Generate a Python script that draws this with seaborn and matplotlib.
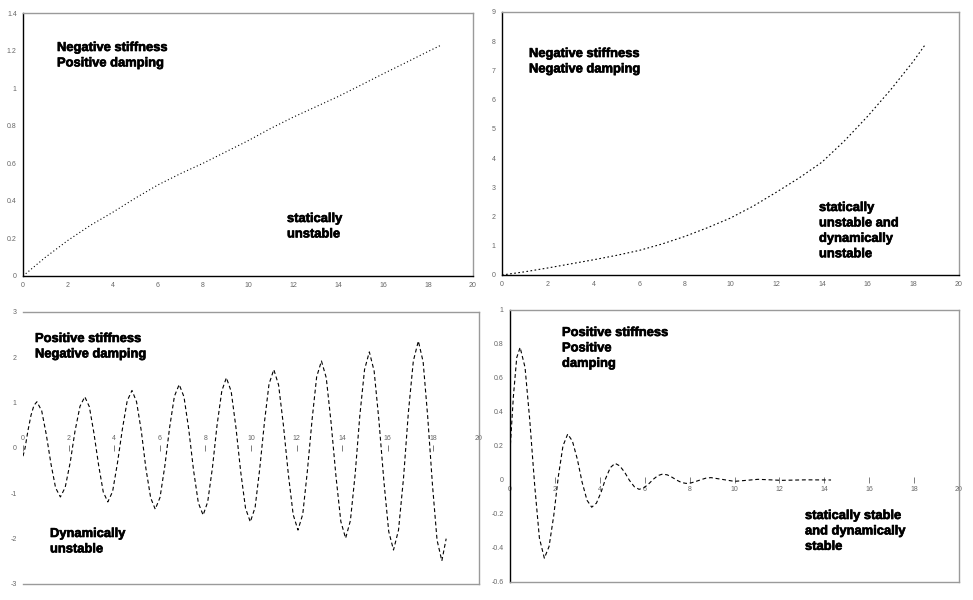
import numpy as np
import pandas as pd
import matplotlib
matplotlib.use("Agg")
import matplotlib.pyplot as plt
import matplotlib.patheffects as pe
import seaborn as sns

# ---------------- data ----------------
# Panel 1: negative stiffness, positive damping
p1_x = [0, 1, 2, 3, 4, 5, 6, 7, 8, 9, 10, 11, 12, 13, 14, 15, 16, 17, 18, 18.6]
p1_y = [0, 0.10, 0.19, 0.27, 0.34, 0.415, 0.485, 0.545, 0.60, 0.66, 0.72,
        0.785, 0.845, 0.90, 0.955, 1.015, 1.076, 1.135, 1.195, 1.23]

# Panel 2: negative stiffness, negative damping
p2_x = [0, 1, 2, 3, 4, 5, 6, 7, 8, 9, 10, 11, 12, 13, 14, 15, 16, 17, 18, 18.5]
p2_y = [0, 0.11, 0.24, 0.38, 0.52, 0.67, 0.84, 1.06, 1.32, 1.62, 1.95,
        2.36, 2.83, 3.32, 3.86, 4.60, 5.43, 6.33, 7.31, 7.86]

# Panel 3: positive stiffness, negative damping
p3_x = [0.00, 0.09, 0.22, 0.35, 0.48, 0.61,
        0.82, 1.02, 1.23, 1.43, 1.64,
        1.85, 2.07, 2.28, 2.50, 2.71,
        2.91, 3.11, 3.32, 3.52, 3.72,
        3.93, 4.14, 4.36, 4.57, 4.78,
        4.98, 5.19, 5.39, 5.60, 5.80,
        6.01, 6.22, 6.43, 6.64, 6.85,
        7.06, 7.27, 7.48, 7.69, 7.90,
        8.10, 8.31, 8.51, 8.72, 8.92,
        9.13, 9.34, 9.55, 9.76, 9.97,
        10.18, 10.38, 10.59, 10.79, 11.00,
        11.21, 11.42, 11.64, 11.85, 12.06,
        12.27, 12.47, 12.68, 12.88, 13.09,
        13.30, 13.51, 13.73, 13.94, 14.15,
        14.36, 14.57, 14.77, 14.98, 15.19,
        15.40, 15.61, 15.83, 16.04, 16.25,
        16.47, 16.69, 16.90, 17.12, 17.34,
        17.55, 17.75, 17.96, 18.16, 18.37,
        18.56]
p3_y = [-0.18, 0.0, 0.39, 0.72, 0.94, 1.02,
        0.82, 0.30, -0.36, -0.88, -1.08,
        -0.87, -0.32, 0.37, 0.92, 1.13,
        0.91, 0.33, -0.39, -0.97, -1.19,
        -0.96, -0.34, 0.42, 1.04, 1.27,
        1.02, 0.37, -0.45, -1.10, -1.35,
        -1.09, -0.40, 0.45, 1.14, 1.40,
        1.13, 0.41, -0.49, -1.21, -1.48,
        -1.19, -0.43, 0.50, 1.26, 1.55,
        1.25, 0.45, -0.53, -1.33, -1.63,
        -1.31, -0.47, 0.57, 1.41, 1.73,
        1.39, 0.51, -0.59, -1.47, -1.81,
        -1.46, -0.52, 0.63, 1.57, 1.92,
        1.55, 0.57, -0.64, -1.62, -1.99,
        -1.60, -0.57, 0.70, 1.73, 2.12,
        1.70, 0.61, -0.74, -1.84, -2.25,
        -1.81, -0.66, 0.77, 1.92, 2.36,
        1.90, 0.69, -0.82, -2.03, -2.49,
        -2.00]

# Panel 4: positive stiffness, positive damping
p4_x = [0.00, 0.15, 0.30, 0.45,
        0.67, 0.88, 1.10, 1.31, 1.53,
        1.74, 1.95, 2.15, 2.36, 2.57,
        2.78, 3.00, 3.21, 3.43, 3.64,
        3.85, 4.06, 4.26, 4.47, 4.68,
        4.89, 5.11, 5.32, 5.54, 5.75,
        5.96, 6.17, 6.38, 6.59, 6.80,
        7.01, 7.22, 7.43, 7.64, 7.85,
        8.07, 8.29, 8.51, 8.73, 8.95,
        9.48, 10.00, 10.53, 11.05, 12.10, 13.20, 14.30]
p4_y = [0.17, 0.49, 0.72, 0.78,
        0.662, 0.352, -0.032, -0.342, -0.46,
        -0.391, -0.208, 0.018, 0.201, 0.27,
        0.229, 0.122, -0.012, -0.119, -0.16,
        -0.136, -0.071, 0.009, 0.073, 0.098,
        0.083, 0.045, -0.002, -0.040, -0.055,
        -0.046, -0.024, 0.004, 0.026, 0.035,
        0.030, 0.016, -0.001, -0.015, -0.020,
        -0.017, -0.008, 0.002, 0.011, 0.014,
        0.003, -0.008, -0.002, 0.004, -0.002, 0.001, 0.0]

x_ticks = [0, 2, 4, 6, 8, 10, 12, 14, 16, 18, 20]
p1_yticks = [0, 0.2, 0.4, 0.6, 0.8, 1, 1.2, 1.4]
p2_yticks = [0, 1, 2, 3, 4, 5, 6, 7, 8, 9]
p3_yticks = [-3, -2, -1, 0, 1, 2, 3]
p4_yticks = [-0.6, -0.4, -0.2, 0, 0.2, 0.4, 0.6, 0.8, 1]

texts = [
    (57, 42, "Negative stiffness\nPositive damping"),
    (287, 213, "statically\nunstable"),
    (529, 48, "Negative stiffness\nNegative damping"),
    (819, 202, "statically\nunstable and\ndynamically\nunstable"),
    (35, 333, "Positive stiffness\nNegative damping"),
    (50, 528, "Dynamically\nunstable"),
    (562, 327, "Positive stiffness\nPositive\ndamping"),
    (805, 510, "statically stable\nand dynamically\nstable"),
]

# ---------------- drawing ----------------
sns.set_style("white")
plt.rcParams["font.family"] = ["Liberation Sans", "DejaVu Sans"]

W, H = 973, 600
fig = plt.figure(figsize=(W / 100, H / 100), dpi=100)
fig.patch.set_facecolor("white")

def rect(l, t, r, b):
    return [l / W, 1 - b / H, (r - l) / W, (b - t) / H]

FRAME = "#9a9a9a"
TICKC = "#666666"
TFS = 5

def fmt(v):
    return "%g" % v

def style_axes(ax, left_dark=True, bottom_dark=True, left_visible=True):
    for s in ["top", "right"]:
        ax.spines[s].set_color(FRAME)
        ax.spines[s].set_linewidth(1.0)
    ax.spines["left"].set_color("black" if left_dark else FRAME)
    ax.spines["left"].set_linewidth(1.0)
    ax.spines["left"].set_visible(left_visible)
    ax.spines["bottom"].set_color("black" if bottom_dark else FRAME)
    ax.spines["bottom"].set_linewidth(1.0)
    ax.tick_params(axis="both", which="both", direction="out", length=3,
                   width=0.6, colors=TICKC, labelsize=TFS, pad=1.5)
    ax.set_xlabel("")
    ax.set_ylabel("")
    ax.grid(False)

# Panel 1
ax1 = fig.add_axes(rect(23, 13, 473, 276))
sns.lineplot(x=p1_x, y=p1_y, ax=ax1, color="black", linewidth=0.8,
             linestyle=(0, (1, 2.2)), sort=False, estimator=None)
ax1.set_xlim(0, 20); ax1.set_ylim(0, 1.4)
ax1.set_xticks(x_ticks); ax1.set_xticklabels([fmt(v) for v in x_ticks])
ax1.set_yticks(p1_yticks); ax1.set_yticklabels([fmt(v) for v in p1_yticks])
style_axes(ax1)

# Panel 2
ax2 = fig.add_axes(rect(502, 12, 959, 275))
sns.lineplot(x=p2_x, y=p2_y, ax=ax2, color="black", linewidth=0.8,
             linestyle=(0, (1.5, 2.2)), sort=False, estimator=None)
ax2.set_xlim(0, 20); ax2.set_ylim(0, 9)
ax2.set_xticks(x_ticks); ax2.set_xticklabels([fmt(v) for v in x_ticks])
ax2.set_yticks(p2_yticks); ax2.set_yticklabels([fmt(v) for v in p2_yticks])
style_axes(ax2)

def zero_xaxis(ax, frac):
    ax.set_xticks([])
    ax.spines["bottom"].set_color(FRAME)
    sec = ax.secondary_xaxis(frac)
    sec.set_xticks(x_ticks)
    sec.set_xticklabels([fmt(v) for v in x_ticks])
    for s in sec.spines.values():
        s.set_visible(False)
    sec.tick_params(axis="x", direction="inout", length=5, width=0.6,
                    colors=TICKC, labelsize=TFS, pad=1.5)
    return sec

# Panel 3
ax3 = fig.add_axes(rect(23, 312, 479, 584))
sns.lineplot(x=p3_x, y=p3_y, ax=ax3, color="black", linewidth=0.8,
             linestyle=(0, (3.5, 2.5)), sort=False, estimator=None)
ax3.set_xlim(0, 20); ax3.set_ylim(-3, 3)
ax3.set_yticks(p3_yticks); ax3.set_yticklabels([fmt(v) for v in p3_yticks])
style_axes(ax3, left_visible=False, bottom_dark=False)
zero_xaxis(ax3, 0.5)

# Panel 4
ax4 = fig.add_axes(rect(510, 310, 959, 582))
sns.lineplot(x=p4_x, y=p4_y, ax=ax4, color="black", linewidth=0.8,
             linestyle=(0, (3.5, 2.5)), sort=False, estimator=None)
ax4.set_xlim(0, 20); ax4.set_ylim(-0.6, 1.0)
ax4.set_yticks(p4_yticks); ax4.set_yticklabels([fmt(v) for v in p4_yticks])
style_axes(ax4, bottom_dark=False)
zero_xaxis(ax4, 0.6 / 1.6)

for x, y, s in texts:
    fig.text(x / W, 1 - y / H, s, ha="left", va="top", fontsize=9.3,
             fontweight="bold", color="black", linespacing=1.38,
             family=["Liberation Sans", "DejaVu Sans"],
             path_effects=[pe.withStroke(linewidth=0.45, foreground="black")])

fig.savefig("out.png", dpi=100, facecolor="white")
